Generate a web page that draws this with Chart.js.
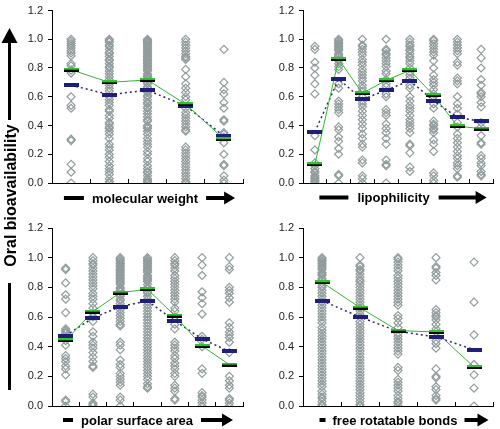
<!DOCTYPE html>
<html>
<head>
<meta charset="utf-8">
<script src="https://cdn.jsdelivr.net/npm/chart.js@4.4.0/dist/chart.umd.min.js"></script>
<style>
  body { margin: 0; background: #fff; }
  #wrap { position: relative; width: 500px; height: 429px; overflow: hidden; }
  .panel { position: absolute; }
  #ylab { position: absolute; left: 0; top: 0; z-index: 2; }
</style>
</head>
<body>
<div id="wrap">
  <div class="panel" style="left:0;top:0"><canvas id="c1" width="250" height="215"></canvas></div>
  <div class="panel" style="left:250px;top:0"><canvas id="c2" width="250" height="215"></canvas></div>
  <div class="panel" style="left:0;top:215px"><canvas id="c3" width="250" height="214"></canvas></div>
  <div class="panel" style="left:250px;top:215px"><canvas id="c4" width="250" height="214"></canvas></div>
  <svg id="ylab" width="22" height="429">
    <polygon points="9.5,28 1.5,43 17.5,43" fill="#000"/>
    <rect x="8" y="42" width="3" height="78" fill="#000"/>
    <text transform="translate(15.5,195.5) rotate(-90)" text-anchor="middle"
          font-family="Liberation Sans, Arial, sans-serif" font-weight="bold" font-size="16">Oral bioavailability</text>
    <rect x="8" y="283" width="3" height="107" fill="#000"/>
  </svg>
</div>
<script>
// ---- data ----
var yTicks = [0, 0.2, 0.4, 0.6, 0.8, 1.0, 1.2];

// molecular weight (5 bins)
var mwPoints = [
  [1.0, 0.985, 0.97, 0.955, 0.94, 0.92, 0.905, 0.885, 0.83, 0.815, 0.785, 0.765, 0.6, 0.54, 0.52, 0.305, 0.295, 0.13, 0.075, 0.0],
  [1.0, 0.99, 0.98, 0.96, 0.95, 0.93, 0.91, 0.9, 0.88, 0.86, 0.85, 0.83, 0.81, 0.8, 0.78, 0.76, 0.74, 0.72, 0.7, 0.68, 0.66, 0.64, 0.6, 0.58, 0.56, 0.54, 0.51, 0.5, 0.47, 0.45, 0.42, 0.41, 0.39, 0.38, 0.36, 0.34, 0.31, 0.27, 0.25, 0.23, 0.2, 0.18, 0.15, 0.12, 0.1, 0.08, 0.06, 0.03, 0.01, 0.0],
  [1.0, 0.99, 0.985, 0.98, 0.97, 0.96, 0.95, 0.94, 0.93, 0.92, 0.91, 0.9, 0.89, 0.88, 0.87, 0.86, 0.85, 0.84, 0.83, 0.82, 0.81, 0.8, 0.79, 0.78, 0.76, 0.75, 0.74, 0.73, 0.72, 0.7, 0.69, 0.67, 0.66, 0.64, 0.63, 0.61, 0.6, 0.58, 0.56, 0.55, 0.53, 0.52, 0.5, 0.48, 0.46, 0.44, 0.43, 0.4, 0.39, 0.38, 0.36, 0.34, 0.31, 0.29, 0.27, 0.25, 0.22, 0.2, 0.17, 0.15, 0.12, 0.1, 0.08, 0.07, 0.05, 0.03, 0.02, 0.01, 0.0],
  [1.0, 0.98, 0.96, 0.94, 0.92, 0.9, 0.88, 0.87, 0.86, 0.79, 0.74, 0.69, 0.66, 0.63, 0.6, 0.58, 0.52, 0.49, 0.47, 0.45, 0.43, 0.41, 0.39, 0.37, 0.36, 0.25, 0.23, 0.21, 0.19, 0.17, 0.15, 0.13, 0.11, 0.09, 0.07, 0.05, 0.03, 0.01, 0.0],
  [0.93, 0.7, 0.65, 0.62, 0.56, 0.52, 0.44, 0.43, 0.35, 0.34, 0.32, 0.28, 0.2, 0.13, 0.12, 0.05, 0.02, 0.0]
];
var mwMean = [0.68, 0.615, 0.645, 0.537, 0.326];
var mwMedian = [0.788, 0.70, 0.717, 0.548, 0.306];

// lipophilicity (8 bins)
var lipoPoints = [
  [0.95, 0.93, 0.84, 0.8, 0.75, 0.69, 0.62, 0.33, 0.23, 0.14, 0.12, 0.1, 0.08, 0.07, 0.05, 0.04, 0.03, 0.02, 0.01, 0.0],
  [1.0, 0.99, 0.98, 0.97, 0.96, 0.95, 0.94, 0.93, 0.92, 0.9, 0.89, 0.88, 0.86, 0.85, 0.83, 0.81, 0.79, 0.69, 0.66, 0.57, 0.55, 0.53, 0.51, 0.49, 0.39, 0.37, 0.32, 0.29, 0.24, 0.2, 0.06, 0.05, 0.0],
  [1.0, 0.96, 0.95, 0.93, 0.91, 0.89, 0.86, 0.84, 0.82, 0.79, 0.77, 0.75, 0.73, 0.71, 0.68, 0.66, 0.64, 0.6, 0.57, 0.55, 0.53, 0.5, 0.47, 0.44, 0.41, 0.38, 0.34, 0.31, 0.27, 0.25, 0.16, 0.14, 0.05, 0.03, 0.0],
  [1.0, 0.93, 0.92, 0.9, 0.89, 0.87, 0.85, 0.83, 0.81, 0.78, 0.76, 0.72, 0.69, 0.67, 0.62, 0.6, 0.51, 0.49, 0.47, 0.41, 0.38, 0.35, 0.31, 0.27, 0.16, 0.13, 0.12, 0.0],
  [1.0, 0.98, 0.96, 0.95, 0.93, 0.92, 0.9, 0.88, 0.87, 0.85, 0.83, 0.8, 0.77, 0.75, 0.73, 0.68, 0.66, 0.6, 0.57, 0.54, 0.52, 0.5, 0.47, 0.44, 0.42, 0.4, 0.38, 0.35, 0.27, 0.26, 0.21, 0.11, 0.08],
  [1.0, 0.99, 0.97, 0.95, 0.93, 0.91, 0.89, 0.85, 0.8, 0.75, 0.72, 0.7, 0.68, 0.65, 0.62, 0.6, 0.55, 0.52, 0.43, 0.41, 0.4, 0.38, 0.37, 0.35, 0.3, 0.27, 0.22, 0.07, 0.05, 0.02, 0.0],
  [1.0, 0.98, 0.96, 0.94, 0.92, 0.9, 0.84, 0.82, 0.73, 0.71, 0.69, 0.6, 0.55, 0.52, 0.48, 0.42, 0.39, 0.34, 0.31, 0.28, 0.25, 0.22, 0.19, 0.17, 0.14, 0.12, 0.1, 0.05, 0.04],
  [0.93, 0.87, 0.8, 0.72, 0.68, 0.63, 0.62, 0.6, 0.56, 0.53, 0.42, 0.39, 0.33, 0.28, 0.27, 0.19, 0.17, 0.14, 0.12, 0.08, 0.06, 0.05]
];
var lipoMean = [0.356, 0.723, 0.581, 0.646, 0.712, 0.572, 0.457, 0.428];
var lipoMedian = [0.13, 0.862, 0.624, 0.714, 0.784, 0.61, 0.396, 0.378];

// polar surface area (7 bins)
var psaPoints = [
  [0.93, 0.92, 0.83, 0.75, 0.72, 0.63, 0.52, 0.51, 0.5, 0.49, 0.44, 0.41, 0.34, 0.32, 0.3, 0.27, 0.25, 0.21, 0.04, 0.03, 0.0],
  [1.0, 0.98, 0.96, 0.95, 0.93, 0.91, 0.89, 0.87, 0.85, 0.83, 0.81, 0.79, 0.76, 0.74, 0.72, 0.69, 0.66, 0.63, 0.6, 0.57, 0.5, 0.47, 0.43, 0.41, 0.39, 0.36, 0.33, 0.3, 0.27, 0.26, 0.08, 0.06, 0.02, 0.01, 0.0],
  [1.0, 0.99, 0.98, 0.97, 0.96, 0.95, 0.94, 0.93, 0.92, 0.91, 0.9, 0.89, 0.88, 0.87, 0.86, 0.85, 0.84, 0.83, 0.82, 0.8, 0.79, 0.78, 0.77, 0.75, 0.74, 0.72, 0.71, 0.69, 0.67, 0.65, 0.63, 0.61, 0.59, 0.57, 0.55, 0.54, 0.43, 0.41, 0.38, 0.31, 0.28, 0.26, 0.22, 0.2, 0.18, 0.16, 0.14, 0.06, 0.04, 0.0],
  [1.0, 0.99, 0.98, 0.97, 0.96, 0.95, 0.94, 0.93, 0.92, 0.91, 0.9, 0.88, 0.87, 0.86, 0.85, 0.84, 0.82, 0.8, 0.79, 0.77, 0.76, 0.74, 0.72, 0.7, 0.68, 0.66, 0.64, 0.62, 0.6, 0.58, 0.56, 0.54, 0.52, 0.5, 0.48, 0.46, 0.44, 0.42, 0.4, 0.38, 0.36, 0.34, 0.32, 0.3, 0.28, 0.26, 0.24, 0.22, 0.2, 0.18, 0.15, 0.13, 0.12],
  [1.0, 0.98, 0.96, 0.95, 0.93, 0.91, 0.88, 0.86, 0.84, 0.82, 0.8, 0.78, 0.76, 0.74, 0.72, 0.7, 0.66, 0.64, 0.6, 0.55, 0.52, 0.43, 0.41, 0.39, 0.37, 0.34, 0.32, 0.29, 0.27, 0.25, 0.22, 0.2, 0.14, 0.12, 0.1, 0.05, 0.04],
  [1.0, 0.95, 0.88, 0.77, 0.73, 0.69, 0.62, 0.47, 0.45, 0.4, 0.25, 0.22, 0.09, 0.07, 0.06, 0.04, 0.02, 0.0],
  [1.0, 0.94, 0.92, 0.8, 0.78, 0.76, 0.73, 0.7, 0.56, 0.53, 0.5, 0.48, 0.46, 0.43, 0.36, 0.2, 0.17, 0.14, 0.12, 0.05, 0.04, 0.02, 0.0]
];
var psaMean = [0.475, 0.593, 0.67, 0.708, 0.575, 0.452, 0.368];
var psaMedian = [0.443, 0.636, 0.764, 0.787, 0.609, 0.404, 0.279];

// free rotatable bonds (5 bins)
var rotPoints = [
  [1.0, 0.99, 0.98, 0.97, 0.96, 0.95, 0.94, 0.93, 0.92, 0.9, 0.89, 0.88, 0.86, 0.85, 0.83, 0.81, 0.8, 0.78, 0.76, 0.74, 0.72, 0.7, 0.68, 0.66, 0.64, 0.62, 0.6, 0.58, 0.56, 0.53, 0.51, 0.49, 0.47, 0.45, 0.43, 0.41, 0.39, 0.37, 0.35, 0.33, 0.31, 0.29, 0.27, 0.25, 0.23, 0.21, 0.19, 0.17, 0.15, 0.13, 0.1, 0.08, 0.06, 0.05, 0.03, 0.01, 0.0],
  [1.0, 0.95, 0.94, 0.92, 0.91, 0.89, 0.87, 0.85, 0.84, 0.82, 0.8, 0.78, 0.76, 0.74, 0.72, 0.7, 0.68, 0.66, 0.64, 0.62, 0.6, 0.57, 0.55, 0.53, 0.51, 0.49, 0.47, 0.45, 0.43, 0.41, 0.39, 0.37, 0.35, 0.33, 0.31, 0.29, 0.27, 0.25, 0.23, 0.21, 0.19, 0.17, 0.15, 0.13, 0.11, 0.09, 0.07, 0.05, 0.03, 0.01, 0.0],
  [1.0, 0.99, 0.97, 0.95, 0.93, 0.91, 0.88, 0.86, 0.84, 0.82, 0.8, 0.78, 0.76, 0.74, 0.72, 0.7, 0.68, 0.61, 0.59, 0.56, 0.53, 0.49, 0.47, 0.45, 0.43, 0.41, 0.39, 0.37, 0.35, 0.26, 0.24, 0.18, 0.16, 0.14, 0.12, 0.1, 0.07, 0.05, 0.03, 0.02, 0.0],
  [1.0, 0.94, 0.93, 0.9, 0.88, 0.85, 0.65, 0.63, 0.61, 0.6, 0.58, 0.55, 0.52, 0.5, 0.44, 0.42, 0.39, 0.25, 0.2, 0.19, 0.13, 0.11, 0.07, 0.05, 0.04],
  [0.97, 0.7, 0.48, 0.28, 0.21, 0.12, 0.0]
];
var rotMean = [0.71, 0.6, 0.503, 0.465, 0.38];
var rotMedian = [0.834, 0.663, 0.508, 0.499, 0.263];

// ---- drawing ----
Chart.defaults.font.family = '"Liberation Sans", Arial, Helvetica, sans-serif';

function dash(w, h, rows) {
  var c = document.createElement('canvas');
  c.width = w; c.height = h;
  var g = c.getContext('2d');
  rows.forEach(function(r) { g.fillStyle = r[0]; g.fillRect(0, r[1], w, r[2]); });
  return c;
}
var meanDash = dash(15, 4, [['#1f1f7a', 0, 4]]);
var medianDash = dash(15, 4, [['#2fc42f', 0, 2], ['#000', 2, 2]]);

// bar + caption + arrow under the x axis
var captionPlugin = {
  id: 'caption',
  afterDraw: function(chart, args, o) {
    var ctx = chart.ctx;
    ctx.save();
    ctx.font = 'bold 13px "Liberation Sans", Arial, sans-serif';
    ctx.fillStyle = '#000';
    ctx.textAlign = 'center';
    ctx.textBaseline = 'alphabetic';
    ctx.fillText(o.text, o.x, o.y + 4.5);
    var w = ctx.measureText(o.text).width;
    var left = o.x - w / 2 - o.gap, right = o.x + w / 2 + o.gap;
    ctx.fillRect(left - o.bar, o.y - 2, o.bar, 4);
    var tip = right + o.arrow;
    ctx.fillRect(right, o.y - 2, o.arrow - 9, 4);
    ctx.beginPath();
    ctx.moveTo(tip, o.y);
    ctx.lineTo(tip - 11, o.y - 6.5);
    ctx.lineTo(tip - 11, o.y + 6.5);
    ctx.closePath();
    ctx.fill();
    ctx.restore();
  }
};

function makeChart(id, points, mean, median, cap, box) {
  var scatter = [];
  points.forEach(function(col, i) {
    col.forEach(function(v) { scatter.push({ x: i + 0.5, y: v }); });
  });
  var meanPts = mean.map(function(v, i) { return { x: i + 0.5, y: v }; });
  var medPts = median.map(function(v, i) { return { x: i + 0.5, y: v }; });

  return new Chart(document.getElementById(id), {
    type: 'scatter',
    data: {
      datasets: [
        { data: medPts, pointStyle: medianDash, pointRadius: 6, showLine: false, order: 0 },
        { data: meanPts, pointStyle: meanDash, pointRadius: 6, showLine: false, order: 1 },
        { data: medPts, showLine: true, borderColor: '#2fb82f', borderWidth: 1, pointRadius: 0, order: 2 },
        { data: meanPts, showLine: true, borderColor: '#26267a', borderWidth: 1.5, borderDash: [2, 3], pointRadius: 0, order: 3 },
        { data: scatter, pointStyle: 'rectRot', pointRadius: 4, borderColor: '#919c9c', borderWidth: 1.2,
          backgroundColor: 'rgba(0,0,0,0)', order: 4 }
      ]
    },
    options: {
      responsive: false,
      animation: false,
      events: [],
      layout: { padding: { top: box.top, right: box.right, left: 0, bottom: 0 } },
      plugins: { legend: { display: false }, tooltip: { enabled: false }, caption: cap },
      scales: {
        x: {
          type: 'linear', min: 0, max: points.length,
          ticks: { stepSize: 1, display: false },
          grid: { drawOnChartArea: false, drawTicks: true, tickLength: -4, color: '#000' },
          border: { color: '#000', width: 1 },
          afterFit: function(s) { s.height = box.xh; }
        },
        y: {
          min: 0, max: 1.2,
          afterBuildTicks: function(s) { s.ticks = yTicks.map(function(v) { return { value: v }; }); },
          ticks: { callback: function(v) { return v.toFixed(1); }, color: '#222', padding: 5,
                   font: { size: 11, lineHeight: 1 } },
          grid: { drawOnChartArea: false, tickLength: 4, color: '#000' },
          border: { color: '#000', width: 1 },
          afterFit: function(s) { s.width = box.left; }
        }
      }
    },
    plugins: [captionPlugin]
  });
}

makeChart('c1', mwPoints, mwMean, mwMedian,
  { text: 'molecular weight', x: 145, y: 198, gap: 8, bar: 20, arrow: 29 },
  { left: 52, top: 7, right: 5, xh: 32 });
makeChart('c2', lipoPoints, lipoMean, lipoMedian,
  { text: 'lipophilicity', x: 143.5, y: 197.5, gap: 9, bar: 29, arrow: 48 },
  { left: 53, top: 5, right: 1, xh: 32 });
makeChart('c3', psaPoints, psaMean, psaMedian,
  { text: 'polar surface area', x: 137, y: 205, gap: 8, bar: 10, arrow: 32 },
  { left: 52, top: 13, right: 2, xh: 23 });
makeChart('c4', rotPoints, rotMean, rotMedian,
  { text: 'free rotatable bonds', x: 145, y: 205, gap: 7, bar: 6, arrow: 24 },
  { left: 53, top: 13, right: 2, xh: 23 });
</script>
</body>
</html>
